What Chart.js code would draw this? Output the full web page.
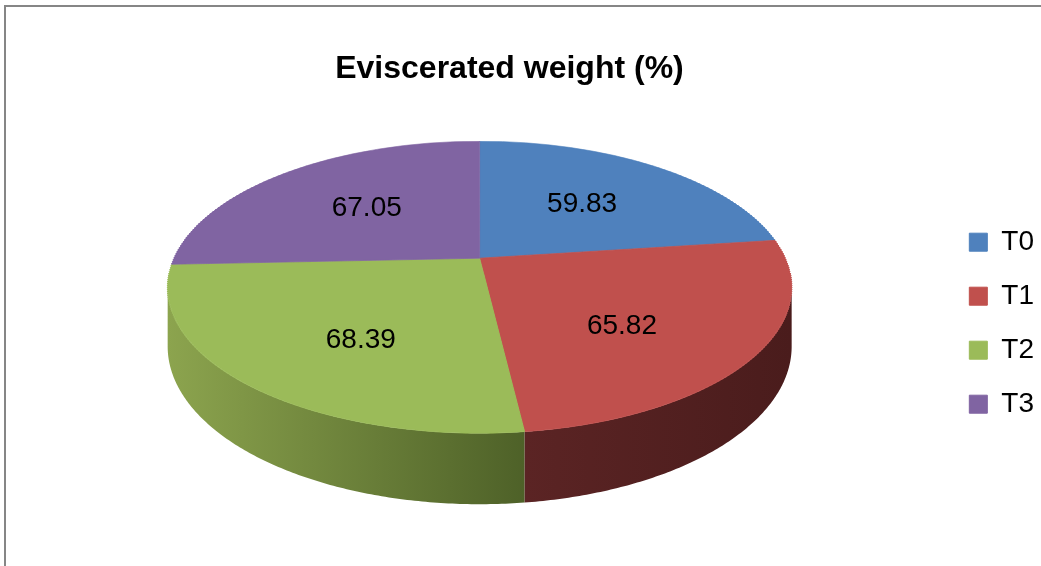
<!DOCTYPE html>
<html>
<head>
<meta charset="utf-8">
<title>Eviscerated weight (%)</title>
<script src="https://cdn.jsdelivr.net/npm/chart.js@4.4.1/dist/chart.umd.min.js"></script>
<style>
    html, body { margin: 0; padding: 0; background: #fff; }
    #wrap { position: relative; width: 1041px; height: 566px; overflow: hidden; }
    #frame {
        position: absolute; left: 4px; top: 5px; width: 1100px; height: 600px;
        border-left: 2px solid #868686; border-top: 2px solid #868686;
        pointer-events: none;
    }
</style>
</head>
<body>
<div id="wrap">
    <canvas id="evisceratedChart"></canvas>
    <div id="frame"></div>
</div>
<script>
// data
const categories = ['T0', 'T1', 'T2', 'T3'];
const weights = [59.83, 65.82, 68.39, 67.05];

// office palette, top face and the shaded side walls
const sliceColors = ['#4F81BD', '#C0504D', '#9BBB59', '#8064A2'];
const sideLight = ['#3E6596', '#5B2424', '#8CA44E', '#654F80'];
const sideDark = ['#2A4466', '#4A1C1C', '#4E6128', '#433556'];

// 3d look: the flat pie is seen in perspective from above and in front
const view = {
    shiftX: 8,       // pie centre sits right of the plot area centre
    lift: 65,        // pie vertex above the plot area centre
    back: 117,       // vertex to far rim, px
    front: 175,      // vertex to near rim, px
    halfWidth: 312,  // widest half width of the top face
    depth: 71,       // wall height at the near rim
    labelAt: 0.55    // labels sit at this fraction of the radius
};

const pie3d = {
    id: 'pie3d',
    beforeDatasetsDraw(chart) {
        const ctx = chart.ctx;
        const meta = chart.getDatasetMeta(0);
        const arcs = meta.data;
        if (!arcs.length) {
            return;
        }
        const ax = arcs[0].x;
        const ay = arcs[0].y;
        const R = arcs[0].outerRadius;

        const c = (view.back - view.front) / (view.back + view.front);
        const B = view.back * (1 - c);
        const R0 = view.halfWidth * Math.sqrt(1 - c * c);
        const cx = ax + view.shiftX;
        const vy = ay - view.lift;

        const project = (u, v) => ({
            x: cx + R0 * u / (1 + c * v),
            y: vy + B * v / (1 + c * v)
        });
        const wall = v => view.depth * (1 + c) / (1 + c * v);

        // side walls, only the part facing the viewer
        const aFrom = Math.asin(-c);
        const aTo = Math.PI - aFrom;
        ctx.save();
        arcs.forEach((arc, i) => {
            [-2 * Math.PI, 0, 2 * Math.PI].forEach(shift => {
                const a0 = Math.max(arc.startAngle + shift, aFrom);
                const a1 = Math.min(arc.endAngle + shift, aTo);
                if (a1 <= a0) {
                    return;
                }
                const steps = Math.max(2, Math.ceil((a1 - a0) / 0.01));
                const topPts = [];
                for (let s = 0; s <= steps; s++) {
                    const a = a0 + (a1 - a0) * s / steps;
                    const v = Math.sin(a);
                    const p = project(Math.cos(a), v);
                    topPts.push({ x: p.x, y: p.y, d: wall(v) });
                }
                const xs = topPts.map(p => p.x);
                const grad = ctx.createLinearGradient(Math.min(...xs), 0, Math.max(...xs), 0);
                grad.addColorStop(0, sideLight[i]);
                grad.addColorStop(1, sideDark[i]);
                ctx.beginPath();
                topPts.forEach((p, k) => k ? ctx.lineTo(p.x, p.y) : ctx.moveTo(p.x, p.y));
                for (let k = topPts.length - 1; k >= 0; k--) {
                    ctx.lineTo(topPts[k].x, topPts[k].y + topPts[k].d);
                }
                ctx.closePath();
                ctx.fillStyle = grad;
                ctx.fill();
            });
        });
        ctx.restore();

        // top face: the library draws its arcs in thin bands, each band
        // with the local scale of the perspective view
        const yStart = Math.floor(vy - view.back) - 2;
        const yEnd = Math.ceil(vy + view.front) + 2;
        for (let y0 = yStart; y0 < yEnd; y0 += 2) {
            const ym = y0 + 1;
            const Y = ym - vy;
            const v = Y / (B - c * Y);
            const sx = R0 / (R * (1 + c * v));
            const sy = B / (Math.pow(1 + c * v, 2) * R);
            ctx.save();
            ctx.beginPath();
            ctx.rect(0, y0, chart.width, 2);
            ctx.clip();
            ctx.translate(cx, ym);
            ctx.scale(sx, sy);
            ctx.translate(-ax, -(ay + v * R));
            meta.controller.draw();
            ctx.restore();
        }

        // value labels, the near ones drop a little like the wall shading
        ctx.save();
        ctx.font = '28px "Liberation Sans", Arial, sans-serif';
        ctx.fillStyle = '#000';
        ctx.textAlign = 'center';
        ctx.textBaseline = 'middle';
        arcs.forEach((arc, i) => {
            const mid = (arc.startAngle + arc.endAngle) / 2;
            const u = Math.cos(mid) * view.labelAt;
            const v = Math.sin(mid) * view.labelAt;
            const q = project(u, v);
            const drop = v > 0 ? view.depth / 4 : 0;
            ctx.fillText(weights[i].toFixed(2), q.x, q.y + drop);
        });
        ctx.restore();

        return false;
    }
};

document.addEventListener('DOMContentLoaded', () => {
    const canvas = document.getElementById('evisceratedChart');
    Chart.defaults.font.family = '"Liberation Sans", Arial, sans-serif';
    Chart.defaults.color = '#000';

    new Chart(canvas, {
        type: 'pie',
        data: {
            labels: categories,
            datasets: [{
                label: 'Eviscerated weight (%)',
                data: weights,
                backgroundColor: sliceColors,
                borderColor: sliceColors,
                borderWidth: 1,
            }]
        },
        options: {
            responsive: true,
            maintainAspectRatio: false,
            animation: false,
            radius: 312,
            layout: {
                padding: { left: -25, right: -3, top: 0, bottom: 16 }
            },
            plugins: {
                title: {
                    display: true,
                    text: 'Eviscerated weight (%)',
                    color: '#000',
                    font: { size: 32, weight: 'bold' },
                    padding: { top: 50, bottom: 8 }
                },
                legend: {
                    position: 'right',
                    fullSize: false,
                    labels: {
                        boxWidth: 18,
                        boxHeight: 18,
                        padding: 26,
                        color: '#000',
                        font: { size: 28 }
                    }
                },
                tooltip: { enabled: false }
            }
        },
        plugins: [pie3d]
    });
});
</script>
</body>
</html>
